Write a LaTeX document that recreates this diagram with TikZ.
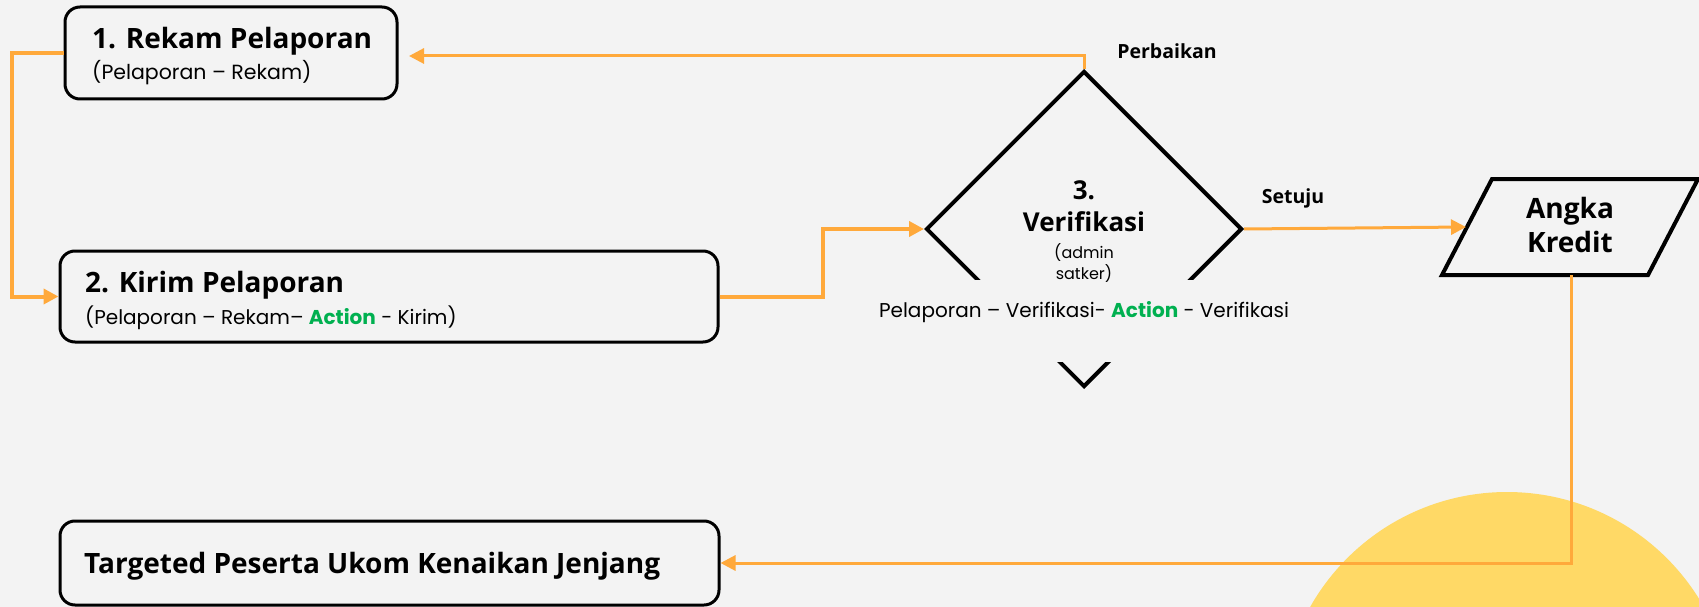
\documentclass[tikz,border=0pt]{standalone}
\usepackage{fontspec}
\setmainfont{Open Sans}
\newfontfamily\subf{Poppins}
\usetikzlibrary{arrows.meta,shapes.geometric,calc}
\definecolor{bg}{HTML}{F3F3F3}
\definecolor{orn}{HTML}{FFA93B}
\definecolor{ylw}{HTML}{FFD966}
\definecolor{grn}{HTML}{00B050}
\tikzset{
  box/.style={draw=black, line width=3pt, rounded corners=15pt, inner sep=0pt},
  conn/.style={draw=orn, line width=4pt, -{Triangle[length=15pt,width=15pt]}},
  connthin/.style={draw=orn, line width=3pt, -{Triangle[length=15pt,width=15pt]}},
  ttl/.style={font=\fontsize{28}{32}\selectfont\bfseries, inner sep=0pt},
  dtl/.style={font=\fontsize{26}{30}\selectfont\bfseries, inner sep=0pt},
  sub/.style={font=\fontsize{20}{24}\selectfont\subf, inner sep=0pt},
  lbl/.style={font=\fontsize{19.5}{23}\selectfont\bfseries, inner sep=0pt},
}
\begin{document}
\begin{tikzpicture}[x=1pt,y=-1pt]
\fill[bg] (0,0) rectangle (1699,607);
\useasboundingbox (0,0) rectangle (1699,607);
\begin{scope}
\clip (0,0) rectangle (1699,607);
\fill[ylw] (1507,718) circle (226);
\end{scope}

% boxes
\node[box, minimum width=332pt, minimum height=92pt] (b1) at (231,53) {};
\node[box, minimum width=658pt, minimum height=91pt] (b2) at (389,296.5) {};
\node[box, minimum width=659pt, minimum height=84pt] (b3) at (389.5,563) {};

\node[ttl, anchor=base west] (t1) at (92,49) {1. Rekam Pelaporan};
\node[sub, anchor=base west, font=\fontsize{20.5}{24}\selectfont\subf] (s1) at (92,80) {(Pelaporan – Rekam)};
\node[ttl, anchor=base west] (t2) at (85,292) {2. Kirim Pelaporan};
\node[sub, anchor=base west] (s2) at (85,324) {(Pelaporan – Rekam– {\bfseries\color{grn}Action} - Kirim)};
\node[ttl, anchor=base west] (t3) at (84,573) {Targeted Peserta Ukom Kenaikan Jenjang};

% diamond
\node[diamond, draw=black, line width=4pt, minimum width=316pt, minimum height=316pt, inner sep=0pt] (dia) at (1084,229) {};
\node[fill=bg, minimum width=440pt, minimum height=82pt, inner sep=0pt] (band) at (1084,321) {};
\node[dtl, anchor=base] (d1) at (1084,199) {3.};
\node[dtl, anchor=base] (d2) at (1084,231) {Verifikasi};
\node[font=\fontsize{16}{19}\selectfont\subf, inner sep=0pt, anchor=base] (d3) at (1084,258) {(admin};
\node[font=\fontsize{16}{19}\selectfont\subf, inner sep=0pt, anchor=base] (d4) at (1084,279) {satker)};
\node[sub, anchor=base] (vt) at (1084,317) {Pelaporan – Verifikasi- {\bfseries\color{grn}Action} - Verifikasi};

% parallelogram
\draw[black, line width=4pt, line join=miter] (1492,179) -- (1698,179) -- (1648,275) -- (1442,275) -- cycle;
\coordinate (akw) at (1466,227);
\coordinate (akb) at (1571,275);
\node[ttl, anchor=base] (a1) at (1570,218) {Angka};
\node[ttl, anchor=base] (a2) at (1570,252) {Kredit};

% connectors
\coordinate (p1) at (409,56);
\draw[conn] (b1.west) -- ++(-52,0) |- (b2.west);
\draw[conn] (b2.east) -- (823,296.5) |- (dia.west);
\draw[connthin] (dia.north) |- (p1);
\draw[connthin] (dia.east) -- (akw);
\draw[connthin] (akb) |- (b3.east);

% labels
\node[lbl, anchor=base] (lp) at (1167,59) {Perbaikan};
\node[lbl, anchor=base] (ls) at (1293,203) {Setuju};
\end{tikzpicture}
\end{document}
